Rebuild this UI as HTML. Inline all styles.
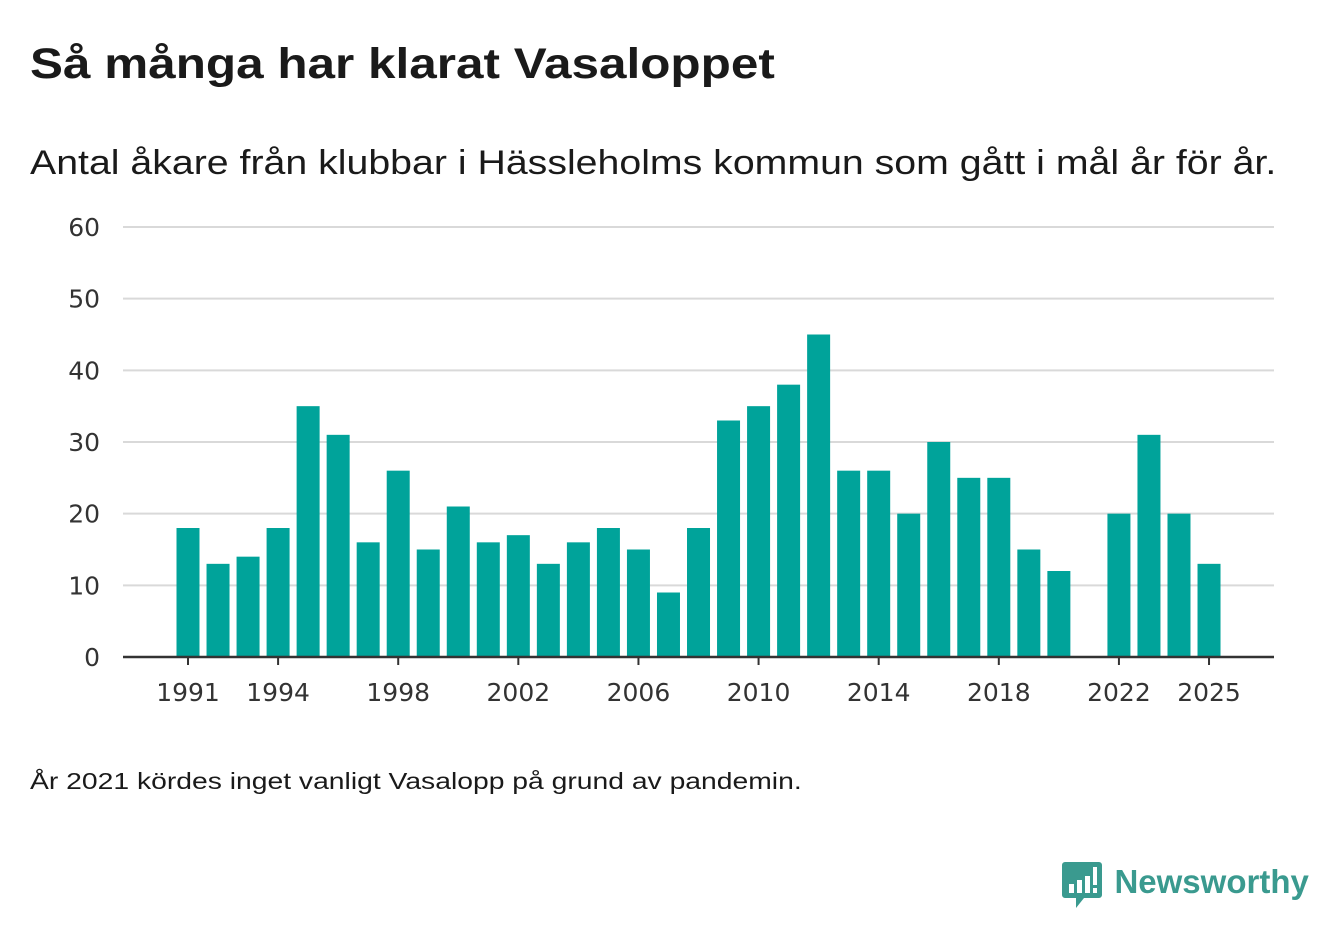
<!DOCTYPE html>
<html><head><meta charset="utf-8"><style>
body{margin:0;width:1340px;height:940px;background:#fff;font-family:"Liberation Sans",sans-serif;color:#1a1a1a;position:relative;overflow:hidden}
.t{position:absolute;white-space:nowrap;transform-origin:0 0}
</style></head><body>
<div class="t" style="left:30px;top:40px;font-size:43px;font-weight:bold;transform:scaleX(1.15)">Så många har klarat Vasaloppet</div>
<div class="t" style="left:30px;top:144px;font-size:34px;transform:scaleX(1.155)">Antal åkare från klubbar i Hässleholms kommun som gått i mål år för år.</div>
<svg id="c" width="1340" height="740" style="position:absolute;left:0;top:0"></svg>
<div class="t" style="left:30px;top:768px;font-size:23px;transform:scaleX(1.23)">År 2021 kördes inget vanligt Vasalopp på grund av pandemin.</div>
<div class="t" style="left:1062px;top:862px;">
<svg width="40" height="48" style="vertical-align:top"><path d="M3 0h34a3 3 0 0 1 3 3v30a3 3 0 0 1-3 3H22l-8 10v-10H3a3 3 0 0 1-3-3V3a3 3 0 0 1 3-3z" fill="#3a9a8f"/><rect x="7" y="22" width="5" height="9" fill="#fff"/><rect x="15" y="18" width="5" height="13" fill="#fff"/><rect x="23" y="14" width="5" height="17" fill="#fff"/><rect x="31" y="5" width="4" height="18" fill="#fff"/><rect x="31" y="26" width="4" height="5" fill="#fff"/></svg>
<span style="font-size:33px;font-weight:bold;color:#3a9a8f;margin-left:8px;line-height:40px;vertical-align:top">Newsworthy</span></div>
<script>
const years=[1991,1992,1993,1994,1995,1996,1997,1998,1999,2000,2001,2002,2003,2004,2005,2006,2007,2008,2009,2010,2011,2012,2013,2014,2015,2016,2017,2018,2019,2020,2021,2022,2023,2024,2025];
const values=[18,13,14,18,35,31,16,26,15,21,16,17,13,16,18,15,9,18,33,35,38,45,26,26,20,30,25,25,15,12,null,20,31,20,13];
const yTicks=[0,10,20,30,40,50,60];
const xTicks=[1991,1994,1998,2002,2006,2010,2014,2018,2022,2025];
const NS="http://www.w3.org/2000/svg",svg=document.getElementById('c');
const x=yr=>188+(yr-1991)*30.03, y=v=>657-v*430/60;
function mk(t,a){const e=document.createElementNS(NS,t);for(const k in a)e.setAttribute(k,a[k]);svg.appendChild(e);return e;}
yTicks.forEach(v=>{
 if(v>0){const l=mk('line',{x1:123,x2:1274,y1:y(v),y2:y(v),stroke:'#d9d9d9','stroke-width':2});
 
 }
 const t=mk('text',{x:100,y:y(v)+9,'text-anchor':'end','font-size':25,fill:'#333','font-family':'DejaVu Sans, sans-serif'});t.textContent=v;
 
 
});
years.forEach((yr,i)=>{const v=values[i];if(v==null)return;
 const r=mk('rect',{x:x(yr)-11.5,y:y(v),width:23,height:y(0)-y(v),fill:'#00a39a'});
 
 
});
const ax=mk('line',{x1:123,x2:1274,y1:657,y2:657,stroke:'#333','stroke-width':2.5});


xTicks.forEach(yr=>{
 mk('line',{x1:x(yr),x2:x(yr),y1:657,y2:665,stroke:'#333','stroke-width':2});
 const t=mk('text',{x:x(yr),y:701,'text-anchor':'middle','font-size':25,fill:'#333','font-family':'DejaVu Sans, sans-serif'});t.textContent=yr;
 
 
});
</script>
</body></html>
